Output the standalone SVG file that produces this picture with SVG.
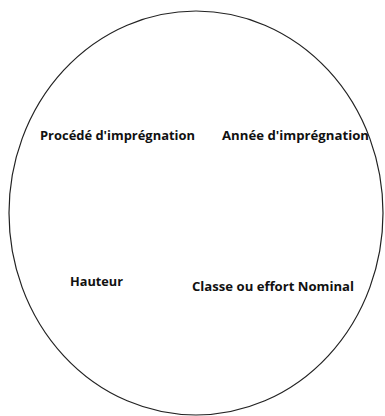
<svg xmlns="http://www.w3.org/2000/svg" width="385" height="416" viewBox="0 0 385 416">
<style>
.t{font-family:"Open Sans","Liberation Sans",sans-serif;font-weight:bold;font-size:13px;fill:#111}
</style>
<rect width="385" height="416" fill="#fff"/>
<g id="circle"><ellipse cx="196" cy="213" rx="187" ry="202" fill="none" stroke="#222" stroke-width="1.2"/></g>
<g id="n1"><text class="t" x="40" y="140" textLength="155" lengthAdjust="spacingAndGlyphs">Procédé d'imprégnation</text></g>
<g id="n2"><text class="t" x="222" y="140" textLength="147" lengthAdjust="spacingAndGlyphs">Année d'imprégnation</text></g>
<g id="n3"><text class="t" x="70" y="286" textLength="53" lengthAdjust="spacingAndGlyphs">Hauteur</text></g>
<g id="n4"><text class="t" x="192" y="291" textLength="162" lengthAdjust="spacingAndGlyphs">Classe ou effort Nominal</text></g>
<g id="connectors"/>
</svg>
